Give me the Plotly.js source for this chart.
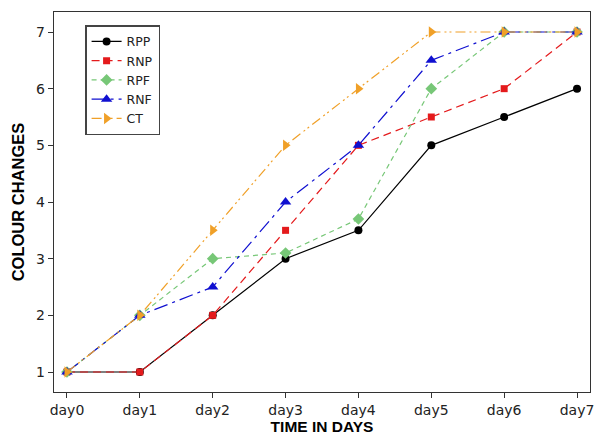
<!DOCTYPE html>
<html><head><meta charset="utf-8">
<script src="https://cdn.plot.ly/plotly-3.0.1.min.js"></script>
<style>body{margin:0;background:#fff}#c{width:596px;height:439px}</style>
</head><body><div id="c"></div>
<script>
const days = ["day0","day1","day2","day3","day4","day5","day6","day7"];
const RPP = [1,1,2,3,3.5,5,5.5,6];
const RNP = [1,1,2,3.5,5,5.5,6,7];
const RPF = [1,2,3,3.1,3.7,6,7,7];
const RNF = [1,2,2.5,4,5,6.5,7,7];
const CT  = [1,2,3.5,5,6,7,7,7];
const xIdx = days.map((d,i)=>i);

function tr(name, y, color, dash, symbol, size){
  return {x:xIdx, y:y, name:name, type:'scatter', mode:'lines+markers',
    line:{color:color, width:1.2, dash:dash},
    marker:{color:color, symbol:symbol, size:size}};
}
const data = [
  tr('RPP', RPP, '#000000', 'solid', 'circle', 8),
  tr('RNP', RNP, '#e41a1c', '8px,5px', 'square', 7),
  tr('RPF', RPF, '#77c777', '5px,4px', 'diamond', 9),
  tr('RNF', RNF, '#1010d0', '14px,5px,3px,5px', 'triangle-up', 10),
  tr('CT', CT, '#f0a028', '10px,4px,2px,3px,2px,4px', 'triangle-right', 10)
];
const layout = {
  width:596, height:439,
  margin:{l:54, r:6, t:12, b:47},
  paper_bgcolor:'#fff', plot_bgcolor:'#fff',
  font:{family:'DejaVu Sans, sans-serif', color:'#222'},
  showlegend:true,
  legend:{x:0.058, y:0.965, xanchor:'left', yanchor:'top',
    bordercolor:'#444', borderwidth:1.5, bgcolor:'#fff',
    font:{size:12.5, family:'DejaVu Sans'}, tracegroupgap:0, itemwidth:30},
  xaxis:{range:[-0.178,7.178], tickvals:xIdx, ticktext:days,
    showgrid:false, zeroline:false, showline:true, linecolor:'#333', linewidth:1.2,
    mirror:true, ticks:'outside', ticklen:5, tickcolor:'#333',
    tickfont:{size:14, family:'DejaVu Sans', color:'#222'},
    title:{text:'TIME IN DAYS', font:{size:15.5, family:'Liberation Sans', color:'#000', weight:'bold'}, standoff:3}},
  yaxis:{range:[0.647,7.353], tickvals:[1,2,3,4,5,6,7],
    showgrid:false, zeroline:false, showline:true, linecolor:'#333', linewidth:1.2,
    mirror:true, ticks:'outside', ticklen:5, tickcolor:'#333',
    tickfont:{size:14, family:'DejaVu Sans', color:'#222'},
    title:{text:'COLOUR CHANGES', font:{size:16.5, family:'Liberation Sans', color:'#000', weight:'bold'}, standoff:7}}
};
Plotly.newPlot('c', data, layout, {displayModeBar:false, staticPlot:true});
</script></body></html>
